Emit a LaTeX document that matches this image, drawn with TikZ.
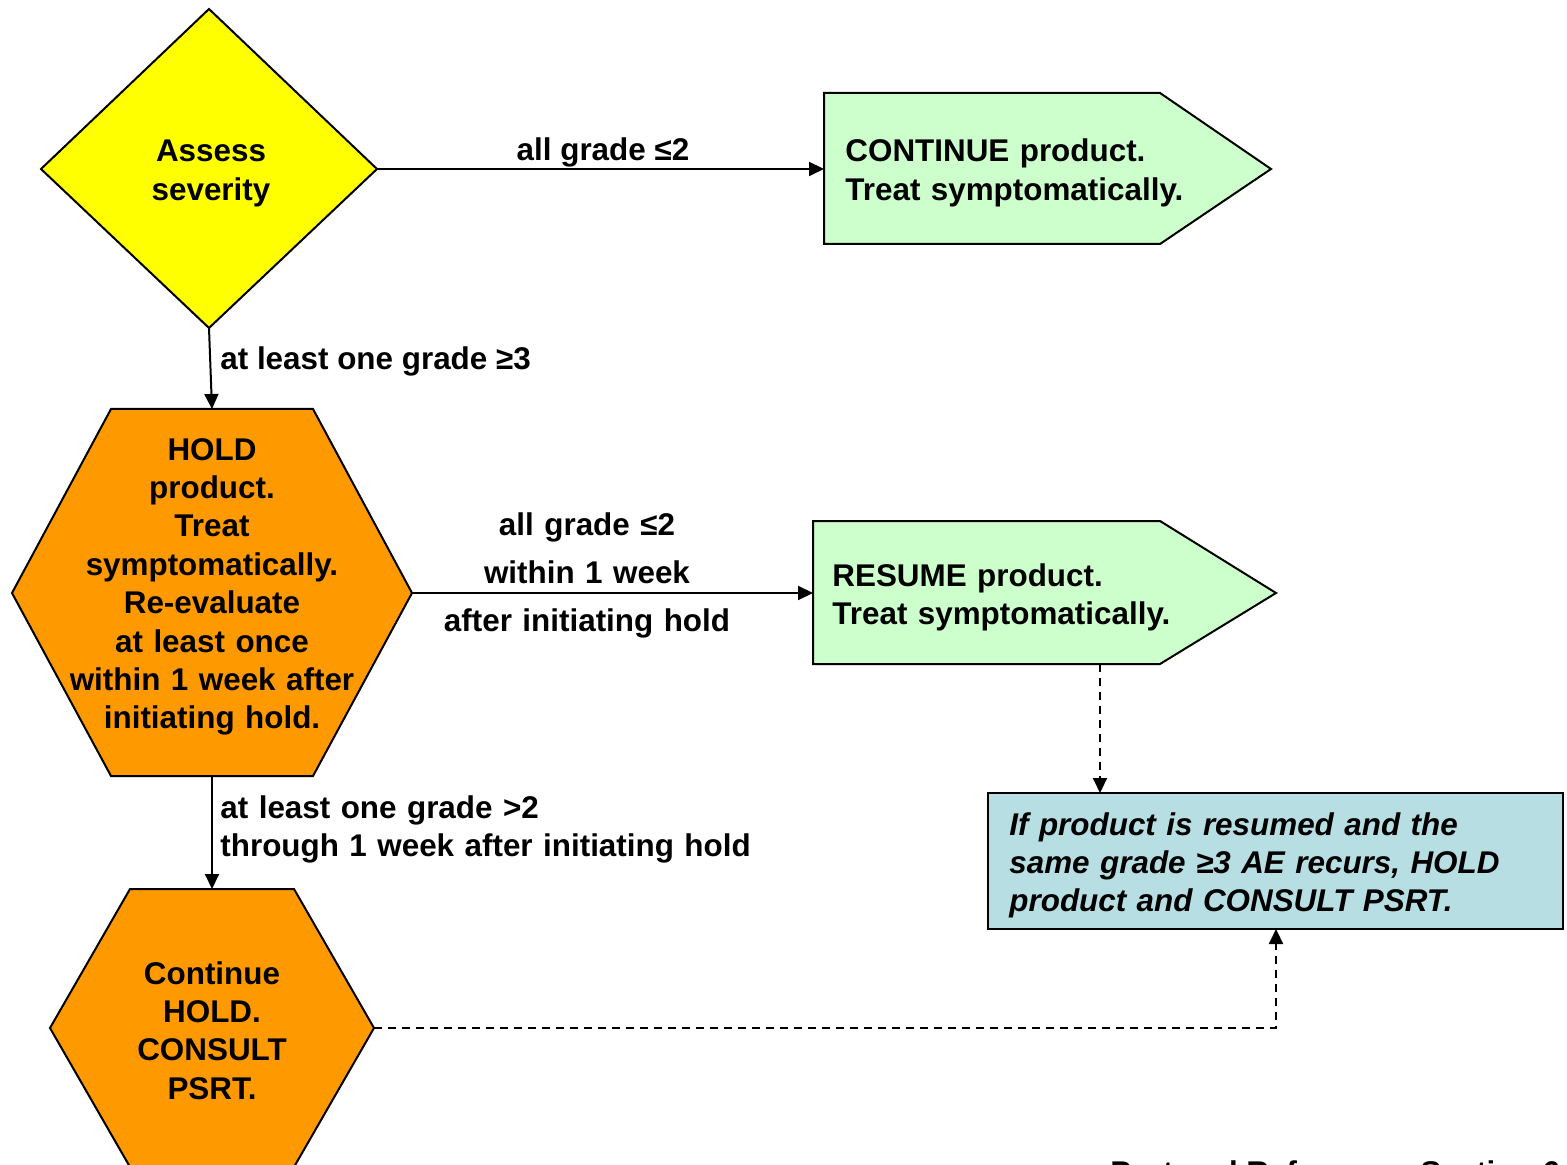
\documentclass[tikz,border=0pt]{standalone}
\usepackage{fontspec}
\setmainfont{Liberation Sans}
\usetikzlibrary{arrows.meta}
\definecolor{decisionyellow}{HTML}{FFFF00}
\definecolor{actiongreen}{HTML}{CCFFCC}
\definecolor{holdorange}{HTML}{FF9900}
\definecolor{noteblue}{HTML}{B7DFE3}
\begin{document}
\begin{tikzpicture}[x=0.5pt,y=-0.5pt,
  outline/.style={draw=black,line width=1pt,line join=miter},
  txt/.style={font=\fontsize{15.7}{19.2}\selectfont\bfseries,inner sep=0pt},
  ctxt/.style={txt,align=center,anchor=base},
  ltxt/.style={txt,align=left,anchor=base west},
  flow/.style={draw=black,line width=1pt,-{Triangle[length=7.5pt,width=7pt]}},
  dflow/.style={flow,dash pattern=on 4pt off 3pt},
]
\useasboundingbox (0,0) rectangle (1567,1165);
\clip (0,0) rectangle (1567,1165);

% ---- decision: assess severity
\coordinate (sev-w) at (41,169);
\coordinate (sev-n) at (209,9);
\coordinate (sev-e) at (377,169);
\coordinate (sev-s) at (209,328);
\draw[outline,fill=decisionyellow] (sev-w)--(sev-n)--(sev-e)--(sev-s)--cycle;
\node[ctxt,text width=120pt] (sev) at (211,162) {Assess\\severity};

% ---- continue product
\coordinate (cont-w) at (824,169);
\draw[outline,fill=actiongreen] (824,93)--(1160,93)--(1271,169)--(1160,244)--(824,244)--cycle;
\node[ltxt,text width=200pt] (cont) at (845,162) {CONTINUE product.\\Treat symptomatically.};

% ---- hold product
\coordinate (hold-n) at (212,409);
\coordinate (hold-e) at (412,593);
\coordinate (hold-s) at (212,776);
\draw[outline,fill=holdorange] (111,409)--(313,409)--(hold-e)--(313,776)--(111,776)--(12,593)--cycle;
\node[ctxt,text width=180pt] (hold) at (212,460)
  {HOLD\\product.\\Treat\\symptomatically.\\Re-evaluate\\at least once\\within 1 week after\\initiating hold.};

% ---- resume product
\coordinate (res-w) at (813,593);
\coordinate (res-s) at (1100,664);
\draw[outline,fill=actiongreen] (813,521)--(1160,521)--(1276,593)--(1160,664)--(813,664)--cycle;
\node[ltxt,text width=200pt] (res) at (832,586) {RESUME product.\\Treat symptomatically.};

% ---- recurrence note
\coordinate (note-n) at (1100,793);
\coordinate (note-s) at (1276,929);
\draw[outline,fill=noteblue] (988,793) rectangle (1563,929);
\node[ltxt,text width=270pt,font=\fontsize{15.7}{19.2}\selectfont\bfseries\itshape] (note) at (1009,835)
  {If product is resumed and the\\same grade ≥3 AE recurs, HOLD\\product and CONSULT PSRT.};

% ---- continue hold
\coordinate (chold-n) at (212,889);
\coordinate (chold-e) at (374,1028);
\draw[outline,fill=holdorange] (130,889)--(294,889)--(chold-e)--(294,1167)--(130,1167)--(50,1028)--cycle;
\node[ctxt,text width=150pt] (chold) at (212,984) {Continue\\HOLD.\\CONSULT\\PSRT.};

% ---- connectors
\draw[flow] (sev-e) -- (cont-w);
\node[ctxt] (l1) at (603,161) {all grade ≤2};

\draw[flow] (sev-s) -- (hold-n);
\node[ltxt] (l2) at (220,370) {at least one grade ≥3};

\draw[flow] (hold-e) -- (res-w);
\node[ctxt,text width=200pt,font=\fontsize{15.7}{24}\selectfont\bfseries] (l3) at (587,535)
  {all grade ≤2\\within 1 week\\after initiating hold};

\draw[flow] (hold-s) -- (chold-n);
\node[ltxt,text width=300pt] (l4) at (220,818)
  {at least one grade >2\\through 1 week after initiating hold};

\draw[dflow] (res-s) -- (note-n);
\draw[dflow] (chold-e) -| (note-s);

% ---- footer reference
\node[ltxt] (ref) at (1110,1183) {Protocol Reference: Section 6.5};
\end{tikzpicture}
\end{document}
